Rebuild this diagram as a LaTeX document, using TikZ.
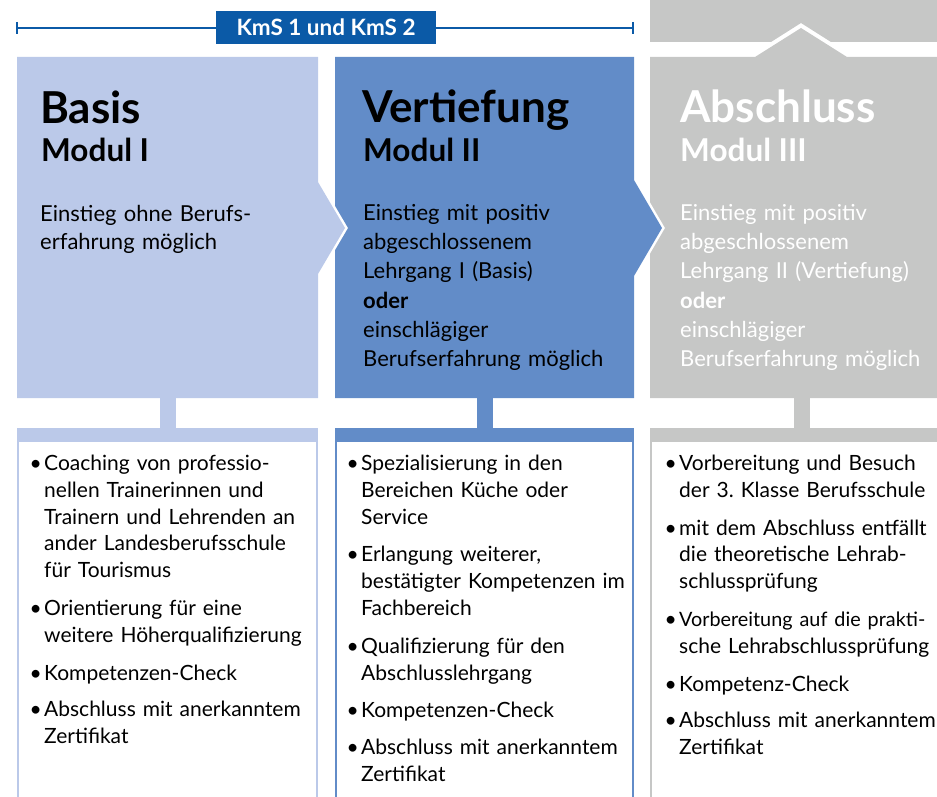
\documentclass[tikz,border=0pt]{standalone}
\usepackage{fontspec}
\setmainfont{Lato}
\definecolor{lb}{RGB}{187,201,233}
\definecolor{mb}{RGB}{98,140,200}
\definecolor{db}{RGB}{11,90,167}
\definecolor{gr}{RGB}{198,199,198}
\newlength\bul \setlength\bul{13pt}
\newcommand\itm[1]{\noindent\makebox[\bul][l]{\hspace{-1.5pt}\strut•}\parbox[t]{285pt}{\raggedright\strut#1\strut}\par}
\begin{document}
\begin{tikzpicture}[x=1pt,y=-1pt,
  hdr/.style={anchor=base west,inner sep=0pt,font=\fontsize{44}{50}\selectfont\bfseries},
  mod/.style={anchor=base west,inner sep=0pt,font=\fontsize{31.5}{36}\selectfont\bfseries},
  body/.style={anchor=north west,inner sep=0pt,text width=290pt,align=left},
  lst/.style={anchor=north west,inner sep=0pt,text width=300pt,
    font=\fontsize{21}{26.8}\selectfont\setlength\parskip{10pt}\setlength\parindent{0pt}},
  tipline/.style={draw=white,line width=5pt,line join=miter}]
\path[use as bounding box] (0,0) rectangle (937,797);
\clip (0,0) rectangle (937,797);
% top range bar
\coordinate (barL) at (17,28);
\coordinate (barR) at (633,28);
\draw[db,line width=2.2pt] (barL) -- (barR);
\draw[db,line width=2pt] (17,22) -- (17,34) (633,22) -- (633,34);
\node[fill=db,text=white,minimum width=220pt,minimum height=33pt,inner sep=0pt,
  font=\fontsize{22.5}{24}\selectfont\bfseries] (kms) at (326,27.5) {KmS 1 und KmS 2};
% gray top bar with notch
\fill[gr] (650,0) -- (951,0) -- (951,42) -- (831,42) -- (801,23) -- (771,42) -- (650,42) -- cycle;
% gray panel
\fill[gr] (650,57) -- (755,57) -- (801,28) -- (847,57) -- (951,57) -- (951,398) -- (650,398) -- cycle;
% blue panel
\draw[tipline] (634,180) -- (662,228) -- (634,276);
\fill[mb] (335,57) -- (634,57) -- (634,180) -- (662,228) -- (634,276) -- (634,398) -- (335,398) -- cycle;
% light panel
\draw[tipline] (318,182) -- (345,228) -- (318,274);
\fill[lb] (17,57) -- (318,57) -- (318,182) -- (345,228) -- (318,274) -- (318,398) -- (17,398) -- cycle;
% stubs
\fill[lb] (160,397) rectangle (176,429);
\fill[mb] (477,397) rectangle (493,429);
\fill[gr] (794,397) rectangle (810,429);
% lower boxes
\fill[lb] (17,428) rectangle (318,442);
\draw[lb,line width=2pt] (18,441) -- (18,800) (317,441) -- (317,800);
\fill[mb] (335,428) rectangle (634,442);
\draw[mb,line width=2pt] (336,441) -- (336,800) (633,441) -- (633,800);
\fill[gr] (650,428) rectangle (951,442);
\draw[gr,line width=2pt] (651,441) -- (651,800);
% headings
\node[hdr] (h1) at (40,124) {Basis};
\node[mod] (m1) at (41,161) {Modul I};
\node[hdr] (h2) at (362,123) {Vertiefung};
\node[mod] (m2) at (363,161) {Modul II};
\node[hdr,text=white] (h3) at (680,123) {Abschluss};
\node[mod,text=white] (m3) at (680,161) {Modul III};
% body
\node[body,font=\fontsize{22}{27.6}\selectfont] (b1) at (40,202) {\strut Einstieg ohne Berufs-\\erfahrung möglich};
\node[body,font=\fontsize{22}{29.3}\selectfont] (b2) at (363,199.5) {\strut Einstieg mit positiv\\abgeschlossenem\\Lehrgang I (Basis)\\\textbf{oder}\\einschlägiger\\Berufserfahrung möglich};
\node[body,text=white,font=\fontsize{22}{29.3}\selectfont] (b3) at (680,199.5) {\strut Einstieg mit positiv\\abgeschlossenem\\Lehrgang II (Vertiefung)\\\textbf{oder}\\einschlägiger\\Berufserfahrung möglich};
% lists
\node[lst] (l1) at (31,451.5) {%
\itm{Coaching von professio-\\nellen Trainerinnen und\\Trainern und Lehrenden an\\ander Landesberufsschule\\für Tourismus}%
\itm{Orientierung für eine\\weitere Höherqualifizierung}%
\itm{Kompetenzen-Check}%
\itm{Abschluss mit anerkanntem\\Zertifikat}};
\node[lst] (l2) at (348,451.5) {%
\itm{Spezialisierung in den\\Bereichen Küche oder\\Service}%
\itm{Erlangung weiterer,\\bestätigter Kompetenzen im\\Fachbereich}%
\itm{Qualifizierung für den\\Abschlusslehrgang}%
\itm{Kompetenzen-Check}%
\itm{Abschluss mit anerkanntem\\Zertifikat}};
\node[lst] (l3) at (666,451.5) {%
\itm{Vorbereitung und Besuch\\der 3.\ Klasse Berufsschule}%
\itm{mit dem Abschluss entfällt\\die theoretische Lehrab-\\schlussprüfung}%
\itm{{\fontsize{19.8}{26.8}\selectfont Vorbereitung auf die prakti-}\\sche Lehrabschlussprüfung}%
\itm{Kompetenz-Check}%
\itm{Abschluss mit anerkanntem\\Zertifikat}};
\end{tikzpicture}
\end{document}
